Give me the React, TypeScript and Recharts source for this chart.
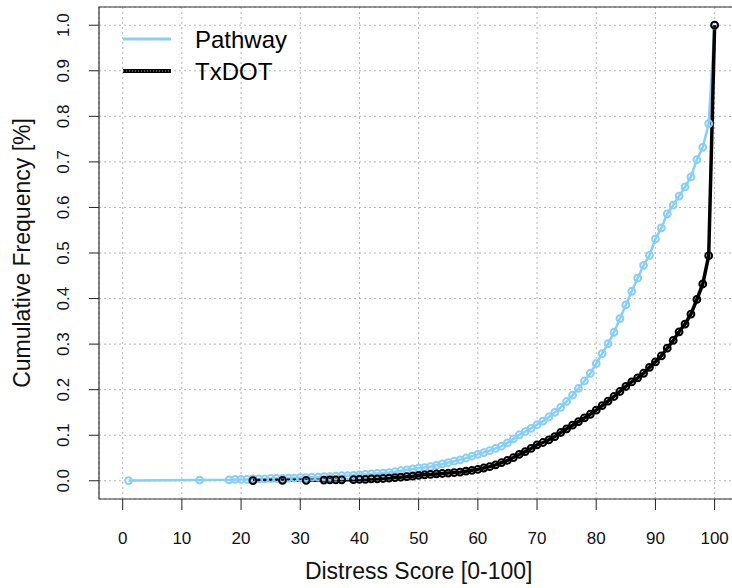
import React from 'react';
import { LineChart, Line, XAxis, YAxis, CartesianGrid, ReferenceArea, Legend } from 'recharts';

const xTicks = [0, 10, 20, 30, 40, 50, 60, 70, 80, 90, 100];
const yTicks = [0, 0.1, 0.2, 0.3, 0.4, 0.5, 0.6, 0.7, 0.8, 0.9, 1.0];

const pathwayScores = [
  1, 13, 18, 19, 20, 21, 22, 23, 24, 25, 26, 27, 28, 29, 30, 31, 32, 33, 34, 35, 36, 37, 38, 39,
  40, 41, 42, 43, 44, 45, 46, 47, 48, 49, 50, 51, 52, 53, 54, 55, 56, 57, 58, 59,
  60, 61, 62, 63, 64, 65, 66, 67, 68, 69, 70, 71, 72, 73, 74, 75, 76, 77, 78, 79,
  80, 81, 82, 83, 84, 85, 86, 87, 88, 89, 90, 91, 92, 93, 94, 95, 96, 97, 98, 99, 100,
];
const pathwayFreq = [
  0.0005, 0.0015, 0.002, 0.003, 0.003, 0.003, 0.004, 0.004, 0.004, 0.005, 0.005, 0.005, 0.006, 0.006,
  0.007, 0.007, 0.008, 0.008, 0.009, 0.009, 0.01, 0.011, 0.011, 0.012,
  0.013, 0.014, 0.015, 0.016, 0.017, 0.018, 0.02, 0.022, 0.024, 0.026, 0.028, 0.029, 0.031, 0.034,
  0.037, 0.04, 0.043, 0.046, 0.05, 0.054,
  0.058, 0.062, 0.066, 0.071, 0.076, 0.083, 0.092, 0.101, 0.108, 0.115, 0.123, 0.131, 0.14, 0.15,
  0.161, 0.174, 0.188, 0.203, 0.219, 0.236,
  0.257, 0.279, 0.301, 0.326, 0.356, 0.386, 0.416, 0.445, 0.473, 0.495, 0.531, 0.555, 0.586, 0.605,
  0.625, 0.645, 0.667, 0.705, 0.732, 0.784, 1.0,
];

const txdotScores = [
  22, 27, 31, 34, 35, 36, 37, 39, 40, 41, 42, 43, 44, 45, 46, 47, 48, 49,
  50, 51, 52, 53, 54, 55, 56, 57, 58, 59, 60, 61, 62, 63, 64, 65, 66, 67, 68, 69,
  70, 71, 72, 73, 74, 75, 76, 77, 78, 79, 80, 81, 82, 83, 84, 85, 86, 87, 88, 89,
  90, 91, 92, 93, 94, 95, 96, 97, 98, 99, 100,
];
const txdotFreq = [
  0.0005, 0.001, 0.001, 0.0015, 0.002, 0.002, 0.002, 0.0025, 0.003, 0.003, 0.004, 0.004, 0.005,
  0.006, 0.007, 0.008, 0.009, 0.01,
  0.012, 0.013, 0.014, 0.015, 0.016, 0.017, 0.018, 0.019, 0.021, 0.023, 0.025, 0.028, 0.031, 0.035,
  0.04, 0.045, 0.051, 0.058, 0.064, 0.071,
  0.079, 0.084, 0.09, 0.097, 0.106, 0.114, 0.122, 0.13, 0.138, 0.146, 0.155, 0.165, 0.175, 0.185,
  0.196, 0.207, 0.217, 0.226, 0.236, 0.249,
  0.261, 0.274, 0.291, 0.308, 0.327, 0.344, 0.366, 0.398, 0.432, 0.494, 1.0,
];

const pathwayData = pathwayScores.map((x, i) => ({ x, y: pathwayFreq[i] }));
const txdotData = txdotScores.map((x, i) => ({ x, y: txdotFreq[i] }));

const FONT = '"Liberation Sans", Arial, sans-serif';
const BLUE = '#87CEFA';

const XTick = ({ x, payload }: any) => (
  <text x={x} y={544} textAnchor="middle" fontSize={17} fontFamily={FONT} fill="#111">
    {payload.value}
  </text>
);

const YTick = ({ y, payload }: any) => (
  <text
    x={69}
    y={y}
    textAnchor="middle"
    fontSize={17}
    fontFamily={FONT}
    fill="#111"
    transform={`rotate(-90, 69, ${y})`}
  >
    {Number(payload.value).toFixed(1)}
  </text>
);

const LegendBox = () => (
  <svg width={300} height={95}>
    <line x1={123} x2={171} y1={39} y2={39} stroke={BLUE} strokeWidth={3} />
    <line x1={123} x2={171} y1={71} y2={71} stroke="#000" strokeWidth={4} />
    <line x1={123} x2={171} y1={71} y2={71} stroke="#999" strokeWidth={1} strokeDasharray="1 2" />
    <text x={195} y={48} fontSize={24} fontFamily={FONT} fill="#000">Pathway</text>
    <text x={195} y={80} fontSize={24} fontFamily={FONT} fill="#000">TxDOT</text>
  </svg>
);

export default function App() {
  return (
    <div style={{ position: 'absolute', left: 0, top: 0, width: 732, height: 588, overflow: 'hidden', background: '#fff' }}>
      <LineChart width={745} height={588} margin={{ top: 7, right: 6.7, bottom: 0, left: 0 }}>
        <CartesianGrid stroke="#b4b4b4" strokeDasharray="2 3" />
        <XAxis
          type="number"
          dataKey="x"
          domain={[-4, 104]}
          ticks={xTicks}
          interval={0}
          allowDataOverflow
          height={89}
          axisLine={false}
          tickSize={11}
          tickLine={{ stroke: '#222' }}
          tick={<XTick />}
          label={{ value: 'Distress Score [0-100]', position: 'insideBottom', offset: 9, fontSize: 23, fontFamily: FONT, fill: '#111' }}
        />
        <YAxis
          type="number"
          dataKey="y"
          domain={[-0.04, 1.04]}
          ticks={yTicks}
          interval={0}
          allowDataOverflow
          width={99}
          axisLine={false}
          tickSize={10}
          tickLine={{ stroke: '#222' }}
          tick={<YTick />}
          label={{ value: 'Cumulative Frequency [%]', angle: -90, position: 'insideLeft', offset: 22, fontSize: 23, fontFamily: FONT, fill: '#111', style: { textAnchor: 'middle' } }}
        />
        <ReferenceArea x1={-4} x2={104} y1={-0.04} y2={1.04} ifOverflow="visible" fill="none" stroke="#333" strokeWidth={1.2} />
        <Line
          data={pathwayData}
          dataKey="y"
          name="Pathway"
          stroke={BLUE}
          strokeWidth={2.5}
          dot={{ r: 3.4, stroke: BLUE, strokeWidth: 2, fill: 'none' }}
          isAnimationActive={false}
        />
        <Line
          data={txdotData}
          dataKey="y"
          name="TxDOT"
          stroke="#000"
          strokeWidth={3.5}
          dot={{ r: 3.4, stroke: '#000', strokeWidth: 2, fill: 'none' }}
          isAnimationActive={false}
        />
        <Legend
          layout="vertical"
          verticalAlign="middle"
          align="center"
          content={<LegendBox />}
          wrapperStyle={{ position: 'absolute', left: 0, top: 0, width: 300, height: 95 }}
        />
      </LineChart>
    </div>
  );
}
